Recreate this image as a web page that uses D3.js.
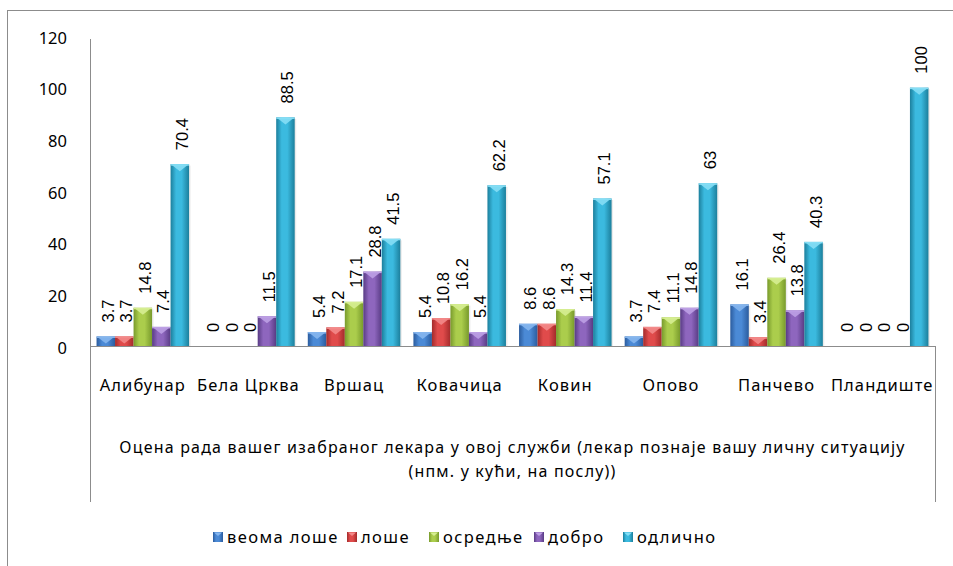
<!DOCTYPE html>
<html>
<head>
<meta charset="utf-8">
<script src="https://cdn.jsdelivr.net/npm/d3@7"></script>
<style>
  html, body { margin: 0; padding: 0; background: #fff; }
  svg { display: block; }
  .tick-label, .cat-label, .title, .legend-text { font-family: "Noto Sans", sans-serif; fill: #000; }
  .value-label { font-family: "Liberation Sans", Arial, sans-serif; fill: #000; }
</style>
</head>
<body>
<svg id="chart" width="953" height="566"></svg>
<script>
// Municipalities on the category axis
const categories = ["Алибунар", "Бела Црква", "Вршац", "Ковачица", "Ковин", "Опово", "Панчево", "Пландиште"];

// Rating series (percent of respondents)
const seriesNames = ["веома лоше", "лоше", "осредње", "добро", "одлично"];
const veomaLose = [3.7, 0, 5.4, 5.4, 8.6, 3.7, 16.1, 0];
const lose      = [3.7, 0, 7.2, 10.8, 8.6, 7.4, 3.4, 0];
const osrednje  = [14.8, 0, 17.1, 16.2, 14.3, 11.1, 26.4, 0];
const dobro     = [7.4, 11.5, 28.8, 5.4, 11.4, 14.8, 13.8, 0];
const odlicno   = [70.4, 88.5, 41.5, 62.2, 57.1, 63, 40.3, 100];
const seriesValues = [veomaLose, lose, osrednje, dobro, odlicno];

const yTicks = [0, 20, 40, 60, 80, 100, 120];
const axisTitle = ["Оцена рада вашег изабраног лекара у овој служби (лекар познаје вашу личну ситуацију",
                   "(нпм. у кући, на послу))"];

// Colour ramps per series: edge, centre, bevel highlight
const palette = [
  { edge: "#2b5c9e", mid: "#4b8ad6", cap: "#86b6ee" },
  { edge: "#a32b2b", mid: "#e04b4b", cap: "#f38a8a" },
  { edge: "#789a2c", mid: "#abcd4c", cap: "#d6ee92" },
  { edge: "#583b84", mid: "#8e66be", cap: "#bda0e4" },
  { edge: "#1c7f9c", mid: "#3bbadf", cap: "#86def5" }
];

const svg = d3.select("#chart");
const W = 953, H = 566;
const plotLeft = 90, plotRight = 935, baseY = 346, axisBottom = 502;

const x = d3.scaleBand().domain(categories).range([plotLeft, plotRight])
  .paddingInner(0.124).paddingOuter(0.062);
const xs = d3.scaleBand().domain(d3.range(seriesNames.length)).range([0, x.bandwidth()]);
const y = d3.scaleLinear().domain([0, 120]).range([baseY, 36]);

// Gradients
const defs = svg.append("defs");
palette.forEach((p, i) => {
  const g = defs.append("linearGradient").attr("id", "grad" + i)
    .attr("x1", "0").attr("x2", "1").attr("y1", "0").attr("y2", "0");
  g.append("stop").attr("offset", "0%").attr("stop-color", p.edge);
  g.append("stop").attr("offset", "30%").attr("stop-color", p.mid);
  g.append("stop").attr("offset", "60%").attr("stop-color", p.mid);
  g.append("stop").attr("offset", "100%").attr("stop-color", p.edge);
});

// Outer chart frame
svg.append("rect").attr("x", 7.5).attr("y", 10.5).attr("width", W + 10).attr("height", H + 10)
  .attr("fill", "none").attr("stroke", "#8c8c8c").attr("stroke-width", 1);

// Axis lines
svg.append("line").attr("x1", plotLeft + 0.5).attr("x2", plotLeft + 0.5)
  .attr("y1", 39).attr("y2", axisBottom).attr("stroke", "#8c8c8c");
svg.append("line").attr("x1", plotLeft).attr("x2", plotRight)
  .attr("y1", baseY + 0.5).attr("y2", baseY + 0.5).attr("stroke", "#8c8c8c");
svg.append("line").attr("x1", plotRight + 0.5).attr("x2", plotRight + 0.5)
  .attr("y1", baseY).attr("y2", axisBottom).attr("stroke", "#8c8c8c");

// Y tick labels
svg.append("g").selectAll("text").data(yTicks).join("text")
  .attr("class", "tick-label")
  .attr("x", 67).attr("y", d => y(d) + 2)
  .attr("dy", "0.35em").attr("text-anchor", "end")
  .style("font-size", "16.5px")
  .text(d => d);

// Bars
const groups = svg.append("g").selectAll("g").data(categories).join("g")
  .attr("transform", d => `translate(${x(d)},0)`);

groups.each(function(cat, ci) {
  const g = d3.select(this);
  seriesValues.forEach((vals, si) => {
    const v = vals[ci];
    const bx = xs(si), bw = xs.bandwidth();
    const top = y(v), h = baseY - top;
    if (h > 0) {
      g.append("rect").attr("x", bx + 1.5).attr("y", top + 1.5).attr("width", bw).attr("height", h - 1.5)
        .attr("fill", "#000").attr("opacity", 0.08);
      g.append("rect").attr("x", bx).attr("y", top).attr("width", bw).attr("height", h)
        .attr("fill", `url(#grad${si})`);
      const capH = Math.min(7, h);
      g.append("path")
        .attr("d", `M${bx + 1},${top + 0.5} L${bx + bw - 1},${top + 0.5} L${bx + bw / 2},${top + capH} Z`)
        .attr("fill", palette[si].cap).attr("opacity", 0.9);
      g.append("rect").attr("x", bx).attr("y", top).attr("width", bw).attr("height", Math.min(1.5, h))
        .attr("fill", palette[si].cap);
    }
    const lx = bx + bw / 2 + 8, ly = top - 14;
    g.append("text").attr("class", "value-label")
      .attr("transform", `translate(${lx},${ly}) rotate(-90)`)
      .style("font-size", "16.5px")
      .text(v);
  });
});

// Category labels
svg.append("g").selectAll("text").data(categories).join("text")
  .attr("class", "cat-label")
  .attr("x", d => x(d) + x.bandwidth() / 2).attr("y", 385)
  .attr("dy", "0.35em").attr("text-anchor", "middle")
  .style("font-size", "16.5px").style("letter-spacing", "1.1px")
  .text(d => d);

// Axis title
svg.append("g").selectAll("text").data(axisTitle).join("text")
  .attr("class", "title")
  .attr("x", (plotLeft + plotRight) / 2).attr("y", (d, i) => 447 + i * 24)
  .attr("dy", "0.35em").attr("text-anchor", "middle")
  .style("font-size", "16px").style("letter-spacing", "1.2px")
  .text(d => d);

// Legend
const legendX = [213, 347, 429, 534, 623];
const legend = svg.append("g").selectAll("g").data(seriesNames).join("g")
  .attr("transform", (d, i) => `translate(${legendX[i]},537)`);
legend.append("rect").attr("x", 0).attr("y", -5).attr("width", 10).attr("height", 10)
  .attr("fill", (d, i) => `url(#grad${i})`);
legend.append("path").attr("d", "M1,-4.5 L9,-4.5 L5,-1 Z")
  .attr("fill", (d, i) => palette[i].cap);
legend.append("text").attr("class", "legend-text")
  .attr("x", 14).attr("y", 0).attr("dy", "0.35em")
  .style("font-size", "16.5px").style("letter-spacing", "1.4px")
  .text(d => d);
</script>
</body>
</html>
